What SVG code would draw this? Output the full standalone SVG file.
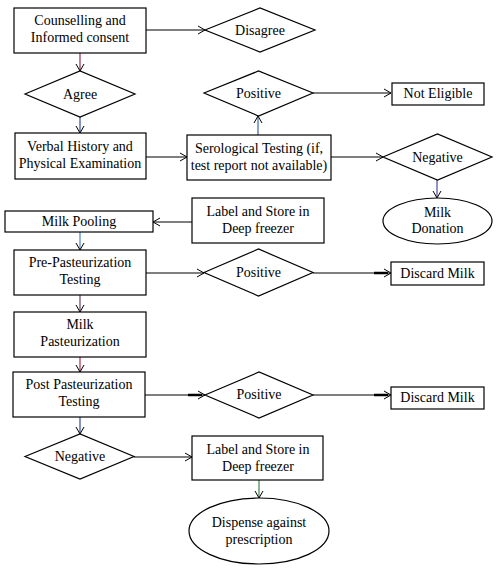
<svg xmlns="http://www.w3.org/2000/svg" width="498" height="569" viewBox="0 0 498 569">
<style>
.n{fill:#fff;stroke:#000;stroke-width:1.2}
.t{font-family:'Liberation Serif','DejaVu Serif',serif;font-size:14px;fill:#000;text-anchor:middle}
.c{fill:none;stroke:#000;stroke-width:1.1}
.thick{stroke:#000;stroke-width:2.5}
</style>
<defs>
<marker id="a" markerWidth="10" markerHeight="10" refX="8" refY="5" orient="auto" markerUnits="userSpaceOnUse">
<path d="M1,1 L8,5 L1,9" fill="none" stroke="#000" stroke-width="1"/>
</marker>
</defs>
<rect width="498" height="569" fill="#fff"/>

<g id="connectors">
<line class="c" x1="146" y1="30" x2="205" y2="30" marker-end="url(#a)"/>
<line class="c" x1="80" y1="53" x2="80" y2="71" style="stroke:#8B1C3C" marker-end="url(#a)"/>
<line class="c" x1="80" y1="117" x2="80" y2="133" style="stroke:#233A8C" marker-end="url(#a)"/>
<line class="c" x1="146" y1="157" x2="187" y2="157" marker-end="url(#a)"/>
<line class="c" x1="258" y1="135" x2="258" y2="116" style="stroke:#2A5AA8" marker-end="url(#a)"/>
<line class="c" x1="313" y1="93" x2="391" y2="93" marker-end="url(#a)"/>
<line class="c" x1="331" y1="157" x2="383" y2="157" marker-end="url(#a)"/>
<line class="c" x1="437" y1="180" x2="437" y2="198" style="stroke:#3A3AA0" marker-end="url(#a)"/>
<line class="c" x1="192" y1="222" x2="153" y2="222" marker-end="url(#a)"/>
<line class="c" x1="80" y1="232" x2="80" y2="250" style="stroke:#3A78C0" marker-end="url(#a)"/>
<line class="c" x1="146" y1="273" x2="204" y2="273" marker-end="url(#a)"/>
<line class="c" x1="313" y1="273" x2="391" y2="273" marker-end="url(#a)"/>
<line class="thick" x1="374" y1="273" x2="388" y2="273"/>
<line class="c" x1="80" y1="295" x2="80" y2="312" style="stroke:#5A3050" marker-end="url(#a)"/>
<line class="c" x1="80" y1="357" x2="80" y2="372" style="stroke:#A02030" marker-end="url(#a)"/>
<line class="c" x1="145" y1="395" x2="205" y2="395" marker-end="url(#a)"/>
<line class="thick" x1="188" y1="395" x2="202" y2="395"/>
<line class="c" x1="313" y1="395" x2="391" y2="395" marker-end="url(#a)"/>
<line class="thick" x1="374" y1="395" x2="388" y2="395"/>
<line class="c" x1="80" y1="417" x2="80" y2="434" style="stroke:#233A8C" marker-end="url(#a)"/>
<line class="c" x1="134" y1="457" x2="192" y2="457" marker-end="url(#a)"/>
<line class="c" x1="259" y1="480" x2="259" y2="498" style="stroke:#2E7D32" marker-end="url(#a)"/>
</g>

<g id="counselling"><rect class="n" x="14" y="8" width="132" height="45"/><text class="t" x="80" y="25" font-family="Liberation Serif">Counselling and</text><text class="t" x="80" y="42">Informed consent</text></g>
<g id="disagree"><polygon class="n" points="205,30 260,8 315,30 260,52"/><text class="t" x="260" y="35">Disagree</text></g>
<g id="agree"><polygon class="n" points="25,94 80,71 135,94 80,117"/><text class="t" x="80" y="99">Agree</text></g>
<g id="verbal"><rect class="n" x="15" y="133" width="131" height="46"/><text class="t" x="80" y="151">Verbal History and</text><text class="t" x="80" y="168">Physical Examination</text></g>
<g id="serological"><rect class="n" x="187" y="135" width="144" height="45"/><text class="t" x="259" y="153">Serological Testing (if,</text><text class="t" x="259" y="170">test report not available)</text></g>
<g id="positive1"><polygon class="n" points="204,93 258.5,71 313,93 258.5,116"/><text class="t" x="258.5" y="98">Positive</text></g>
<g id="noteligible"><rect class="n" x="392" y="83" width="92" height="22"/><text class="t" x="438" y="98">Not Eligible</text></g>
<g id="negative1"><polygon class="n" points="383,157 437.5,134 492,157 437.5,180"/><text class="t" x="437.5" y="162">Negative</text></g>
<g id="milkdonation"><ellipse class="n" cx="437.5" cy="221" rx="54.5" ry="23"/><text class="t" x="437.5" y="217">Milk</text><text class="t" x="437.5" y="233">Donation</text></g>
<g id="labelstore1"><rect class="n" x="192" y="198" width="132" height="45"/><text class="t" x="258" y="216">Label and Store in</text><text class="t" x="258" y="233">Deep freezer</text></g>
<g id="milkpooling"><rect class="n" x="5" y="211" width="148" height="21"/><text class="t" x="79" y="226">Milk Pooling</text></g>
<g id="prepast"><rect class="n" x="14" y="250" width="132" height="45"/><text class="t" x="80" y="267">Pre-Pasteurization</text><text class="t" x="80" y="284">Testing</text></g>
<g id="positive2"><polygon class="n" points="204,272.5 258.5,249 313,272.5 258.5,296"/><text class="t" x="258.5" y="277">Positive</text></g>
<g id="discard1"><rect class="n" x="391" y="262" width="93" height="23"/><text class="t" x="437.5" y="278">Discard Milk</text></g>
<g id="milkpast"><rect class="n" x="14" y="312" width="132" height="45"/><text class="t" x="80" y="329">Milk</text><text class="t" x="80" y="346">Pasteurization</text></g>
<g id="postpast"><rect class="n" x="13" y="372" width="132" height="45"/><text class="t" x="79" y="389">Post Pasteurization</text><text class="t" x="79" y="406">Testing</text></g>
<g id="positive3"><polygon class="n" points="205,395 259,372 313,395 259,418"/><text class="t" x="259" y="399">Positive</text></g>
<g id="discard2"><rect class="n" x="391" y="387" width="93" height="22"/><text class="t" x="437.5" y="402">Discard Milk</text></g>
<g id="negative2"><polygon class="n" points="25,456.5 80,434 134,456.5 80,479"/><text class="t" x="80" y="461">Negative</text></g>
<g id="labelstore2"><rect class="n" x="192" y="436" width="131" height="44"/><text class="t" x="258" y="454">Label and Store in</text><text class="t" x="258" y="471">Deep freezer</text></g>
<g id="dispense"><ellipse class="n" cx="259" cy="531" rx="70" ry="33"/><text class="t" x="259" y="527">Dispense against</text><text class="t" x="259" y="544">prescription</text></g>
</svg>
